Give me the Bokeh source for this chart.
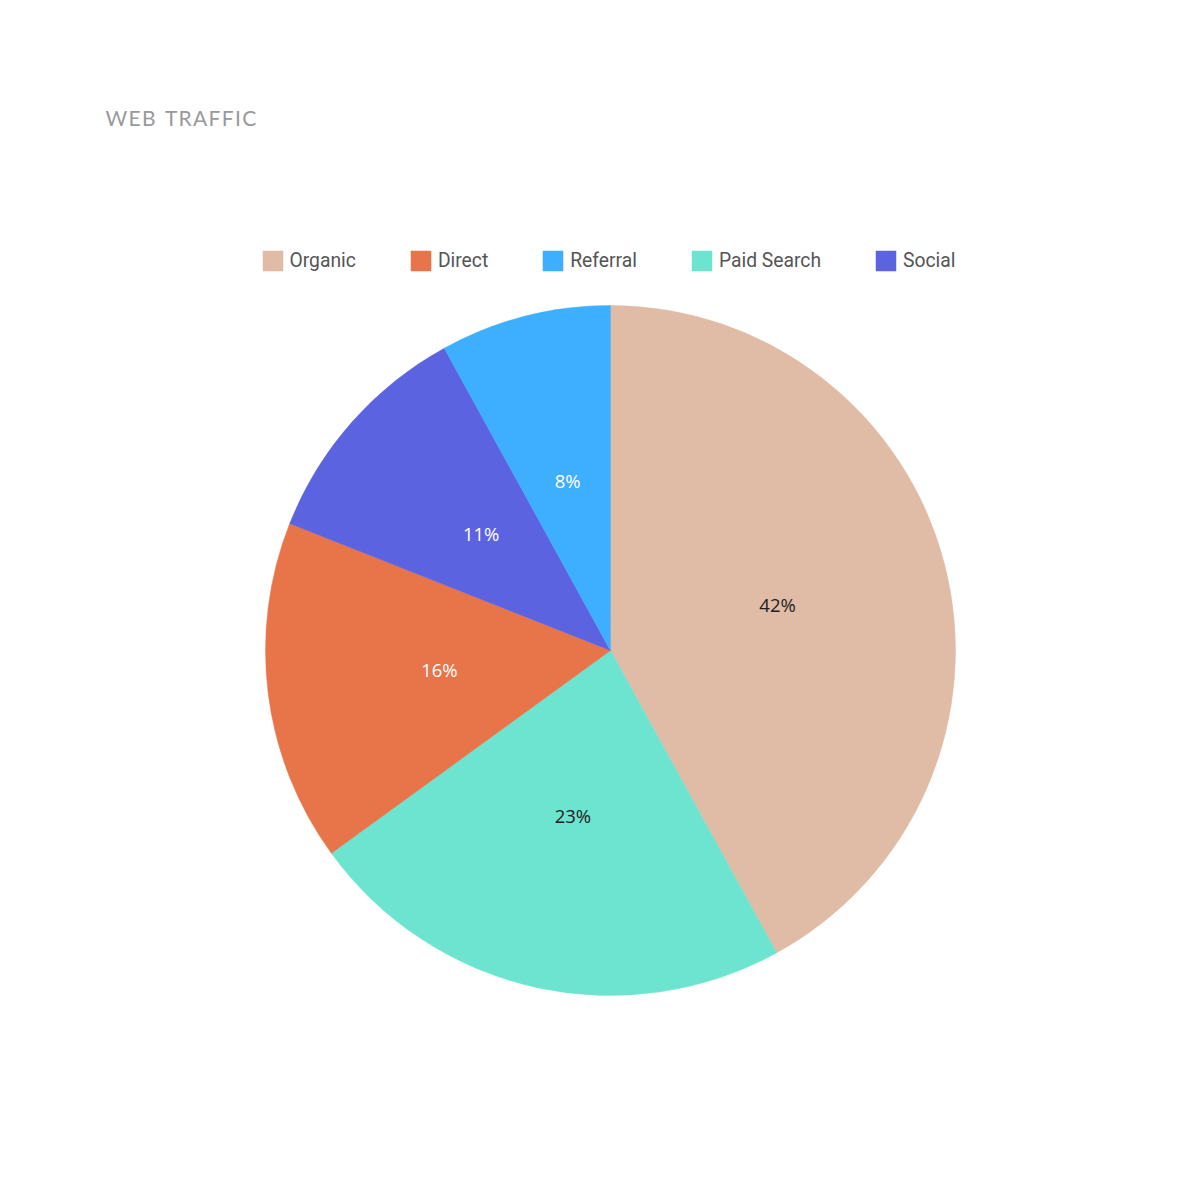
import numpy as np
from bokeh.plotting import figure
from bokeh.models import Range1d, Legend, LegendItem, Label, ColumnDataSource
from bokeh.core.properties import value
from bokeh.embed import file_html
from bokeh.resources import INLINE

# data (pie order, clockwise from top)
categories = ["Organic", "Paid Search", "Direct", "Social", "Referral"]
shares = [42, 23, 16, 11, 8]
colors = ["#E0BBA6", "#6DE4CF", "#E8744A", "#5C63E0", "#3EAEFF"]
label_colors = ["#222222", "#222222", "#FFFFFF", "#FFFFFF", "#FFFFFF"]
legend_order = ["Organic", "Direct", "Referral", "Paid Search", "Social"]

W = H = 1184
p = figure(width=W, height=H, output_backend="svg", toolbar_location=None,
           x_range=Range1d(0, W), y_range=Range1d(0, H), min_border=0,
           x_axis_type=None, y_axis_type=None, match_aspect=False)
p.grid.visible = False
p.outline_line_color = None
p.background_fill_color = "white"

cx, cy, R = 610, 534, 345
vals = np.array(shares, dtype=float)
frac = vals / vals.sum()
cum_end = np.cumsum(frac) * 2 * np.pi
cum_start = cum_end - frac * 2 * np.pi
start = np.pi / 2 - cum_start
end = np.pi / 2 - cum_end
mid = (start + end) / 2

renderers = {}
for i, c in enumerate(categories):
    r = p.wedge(x=cx, y=cy, radius=R, start_angle=start[i], end_angle=end[i],
                direction="clock", fill_color=colors[i], line_color=colors[i], line_width=0.5)
    renderers[c] = r

lsrc = ColumnDataSource(dict(
    x=cx + 0.5 * R * np.cos(mid),
    y=cy + 0.5 * R * np.sin(mid),
    t=[f"{s}%" for s in shares],
    col=label_colors,
))
p.text(x="x", y="y", text="t", source=lsrc, text_color="col",
       text_font=value("Open Sans"), text_font_size="18.5px",
       text_align="center", text_baseline="middle", y_offset=-3)

items = [LegendItem(label=c, renderers=[renderers[c]]) for c in legend_order]
legend = Legend(items=items, orientation="horizontal", location=(259.5, 911.5),
                padding=0, margin=0, spacing=52, label_standoff=5,
                glyph_width=25, glyph_height=25, label_height=25,
                label_text_font="Roboto", label_text_font_size="19.3px",
                label_text_color="#555555", border_line_color=None,
                background_fill_alpha=0)
p.add_layout(legend, "center")

title = Label(x=105, y=1067, text="W\u200aE\u200aB\u2009 \u200aT\u200aR\u200aA\u200aF\u200aF\u200aI\u200aC",
              text_font="Lato", text_font_size="21px", text_color="#999999",
              text_baseline="middle", text_font_style="normal")
p.add_layout(title)

open("out.html", "w").write(file_html(p, INLINE))
